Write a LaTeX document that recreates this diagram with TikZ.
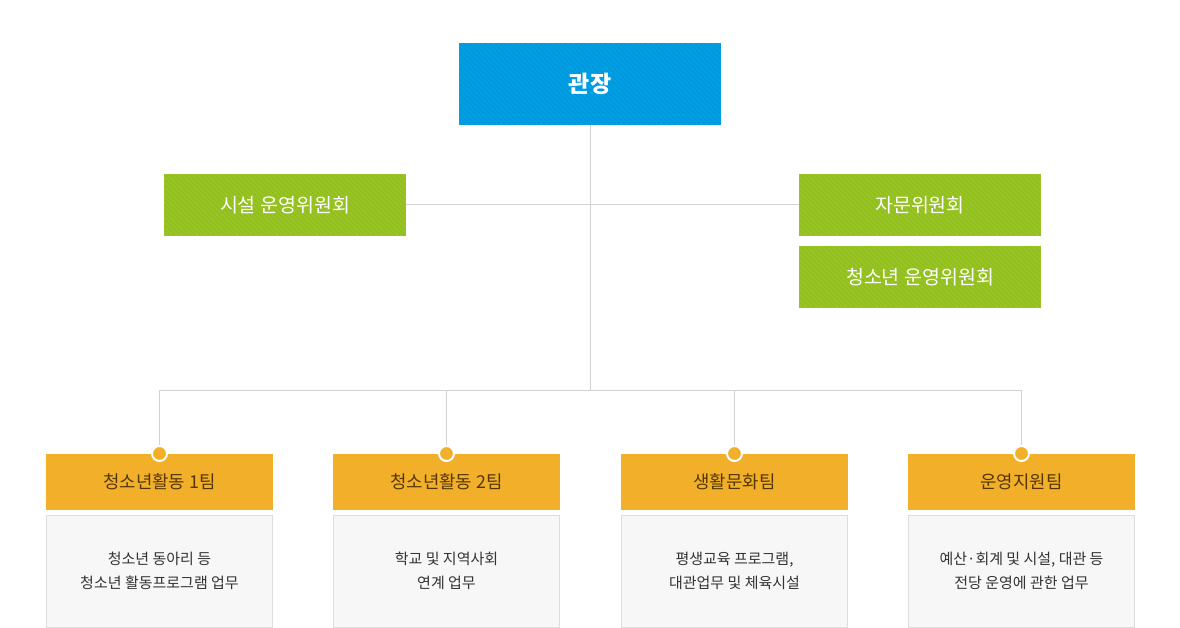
\documentclass[tikz,border=0pt]{standalone}
\usepackage{fontspec}
\setmainfont{Noto Sans CJK KR}
\usetikzlibrary{calc}
\definecolor{cblue}{RGB}{0,158,228}
\definecolor{cbluedk}{RGB}{0,146,212}
\definecolor{cgreen}{RGB}{151,196,35}
\definecolor{cgreendk}{RGB}{140,185,30}
\definecolor{corange}{RGB}{242,176,42}
\definecolor{ctext}{RGB}{85,55,5}
\definecolor{cline}{RGB}{210,210,210}
\definecolor{cdesc}{RGB}{247,247,247}
\definecolor{cdescb}{RGB}{221,221,221}
\definecolor{cdtext}{RGB}{51,51,51}
\tikzset{
  stripes/.style={path picture={\foreach \k in {-100,-95,...,270}{\draw[line width=0.6pt,draw=#1] ([xshift=\k pt]path picture bounding box.north west) -- ++(100pt,-100pt);}}},
  headbox/.style={minimum width=261pt,minimum height=81pt,inner sep=0pt,fill=cblue,draw=cblue,line width=1pt,stripes=cbluedk,
    text=white,font=\fontsize{23}{26}\selectfont\bfseries},
  greenbox/.style={minimum width=241pt,minimum height=61pt,inner sep=0pt,fill=cgreen,draw=cgreen,line width=1pt,stripes=cgreendk,
    text=white,font=\fontsize{19.5}{22}\selectfont},
  teambox/.style={minimum width=227pt,minimum height=56pt,inner sep=0pt,fill=corange,
    text=ctext,font=\fontsize{17.8}{20}\selectfont},
  descbox/.style={minimum width=226pt,minimum height=112pt,inner sep=0pt,fill=cdesc,draw=cdescb,line width=1pt,
    text=cdtext,font=\fontsize{15}{24}\selectfont,align=center},
  conn/.style={draw=cline,line width=1pt},
  dot/.style={circle,fill=corange,draw=white,line width=2pt,minimum size=15pt,inner sep=0pt}
}
\begin{document}
\begin{tikzpicture}[x=1pt,y=-1pt]
\useasboundingbox (0,0) rectangle (1180,628);
\node[headbox] (head) at (590,84) {관장};
\node[greenbox] (fac) at (285,205) {시설 운영위원회};
\node[greenbox] (adv) at (920,205) {자문위원회};
\node[greenbox] (youth) at (920,277) {청소년 운영위원회};
\coordinate (bus) at (590,390);
\coordinate (b1) at (159.5,390);
\coordinate (b2) at (446.5,390);
\coordinate (b3) at (734.5,390);
\coordinate (b4) at (1021.5,390);
\draw[conn] (head.south) -- (bus);
\draw[conn] (fac.east) -- (adv.west);
\draw[conn] (b1) -- (b4);
\node[teambox] (t1) at (159.5,482) {청소년활동 1팀};
\node[teambox] (t2) at (446.5,482) {청소년활동 2팀};
\node[teambox] (t3) at (734.5,482) {생활문화팀};
\node[teambox] (t4) at (1021.5,482) {운영지원팀};
\foreach \i in {1,2,3,4}{
  \node[dot] (d\i) at ($(b\i)+(0,63.5)$) {};
}
\draw[conn] (b1) -- (d1.north);
\draw[conn] (b2) -- (d2.north);
\draw[conn] (b3) -- (d3.north);
\draw[conn] (b4) -- (d4.north);
\node[descbox] (x1) at (159.5,571) {청소년 동아리 등\\청소년 활동프로그램 업무};
\node[descbox] (x2) at (446.5,571) {학교 및 지역사회\\연계 업무};
\node[descbox] (x3) at (734.5,571) {평생교육 프로그램,\\대관업무 및 체육시설};
\node[descbox] (x4) at (1021.5,571) {예산·회계 및 시설, 대관 등\\전당 운영에 관한 업무};
\end{tikzpicture}
\end{document}
